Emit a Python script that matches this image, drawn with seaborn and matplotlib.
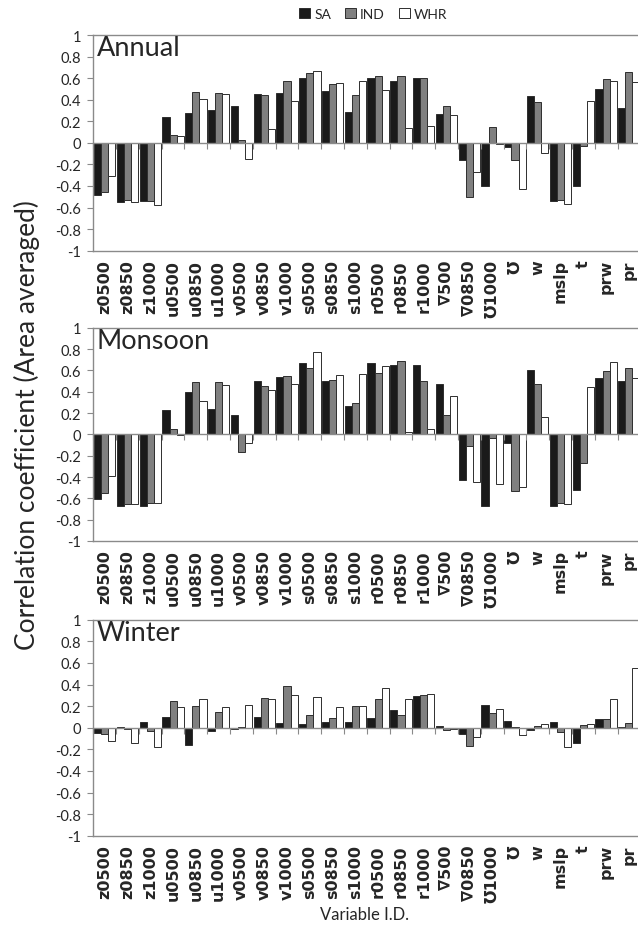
import numpy as np
import pandas as pd
import matplotlib
matplotlib.use('Agg')
import matplotlib.pyplot as plt
import seaborn as sns
from matplotlib.patches import Patch

categories = ['z0500', 'z0850', 'z1000', 'u0500', 'u0850', 'u1000', 'v0500', 'v0850', 'v1000',
              's0500', 's0850', 's1000', 'r0500', 'r0850', 'r1000', '∇500', '∇0850', '℧1000',
              '℧', 'w', 'mslp', 't', 'prw', 'pr']
series = ['SA', 'IND', 'WHR']
panels = ['Annual', 'Monsoon', 'Winter']

annual_sa = [-0.48, -0.55, -0.54, 0.24, 0.28, 0.30, 0.34, 0.45, 0.46, 0.60, 0.48, 0.29,
             0.60, 0.57, 0.60, 0.27, -0.16, -0.40, -0.04, 0.43, -0.54, -0.40, 0.50, 0.32]
annual_ind = [-0.46, -0.53, -0.54, 0.07, 0.47, 0.46, 0.03, 0.44, 0.575, 0.645, 0.545, 0.445,
              0.62, 0.62, 0.60, 0.34, -0.50, 0.145, -0.16, 0.38, -0.53, -0.03, 0.59, 0.66]
annual_whr = [-0.31, -0.55, -0.575, 0.06, 0.41, 0.45, -0.15, 0.13, 0.39, 0.67, 0.555, 0.575,
              0.49, 0.14, 0.16, 0.26, -0.27, -0.01, -0.43, -0.09, -0.57, 0.39, 0.57, 0.56]

monsoon_sa = [-0.605, -0.67, -0.675, 0.23, 0.40, 0.24, 0.18, 0.50, 0.54, 0.665, 0.50, 0.27,
              0.67, 0.65, 0.65, 0.47, -0.43, -0.675, -0.08, 0.60, -0.675, -0.52, 0.525, 0.50]
monsoon_ind = [-0.55, -0.65, -0.64, 0.05, 0.49, 0.49, -0.17, 0.45, 0.55, 0.625, 0.51, 0.29,
               0.575, 0.69, 0.50, 0.18, -0.11, -0.035, -0.53, 0.47, -0.645, -0.27, 0.59, 0.62]
monsoon_whr = [-0.39, -0.65, -0.64, -0.01, 0.31, 0.465, -0.08, 0.415, 0.475, 0.77, 0.555, 0.565,
               0.64, 0.02, 0.05, 0.36, -0.45, -0.465, -0.49, 0.16, -0.65, 0.44, 0.68, 0.53]

winter_sa = [-0.05, 0.01, 0.05, 0.095, -0.16, -0.03, -0.01, 0.095, 0.045, 0.03, 0.055, 0.05,
             0.09, 0.165, 0.29, 0.02, -0.06, 0.21, 0.065, -0.025, 0.05, -0.14, 0.085, 0.01]
winter_ind = [-0.06, -0.01, -0.035, 0.245, 0.20, 0.15, 0.01, 0.275, 0.39, 0.12, 0.09, 0.20,
              0.27, 0.12, 0.30, -0.02, -0.17, 0.135, 0.005, 0.02, -0.04, 0.025, 0.08, 0.04]
winter_whr = [-0.12, -0.14, -0.175, 0.19, 0.27, 0.19, 0.21, 0.27, 0.30, 0.28, 0.19, 0.20,
              0.37, 0.27, 0.31, -0.015, -0.09, 0.17, -0.07, 0.03, -0.175, 0.03, 0.27, 0.55]

panel_data = {
    'Annual': [annual_sa, annual_ind, annual_whr],
    'Monsoon': [monsoon_sa, monsoon_ind, monsoon_whr],
    'Winter': [winter_sa, winter_ind, winter_whr],
}

rows = []
for p in panels:
    for s, vals in zip(series, panel_data[p]):
        for c, v in zip(categories, vals):
            rows.append({'panel': p, 'series': s, 'var': c, 'value': v})
df = pd.DataFrame(rows)

sns.set_style('white')
plt.rcParams['font.family'] = ['Lato', 'DejaVu Sans']

colors = ['#1a1a1a', '#808080', '#ffffff']
gray = '#8a8a8a'

W, H = 638, 929
fig = plt.figure(figsize=(W / 100, H / 100), dpi=100)

left_px, width_px = 93.3, 547.0
panel_px = {'Annual': (36.0, 251.7), 'Monsoon': (328.7, 542.0), 'Winter': (620.7, 836.7)}

yt = np.round(np.arange(-1, 1.001, 0.2), 1)
ylabels = ['%g' % (0.0 if abs(v) < 1e-9 else v) for v in yt]

for p in panels:
    top, bot = panel_px[p]
    ax = fig.add_axes([left_px / W, 1 - bot / H, width_px / W, (bot - top) / H])
    sub = df[df['panel'] == p]
    sns.barplot(data=sub, x='var', y='value', hue='series', order=categories,
                hue_order=series, palette=colors, saturation=1, width=0.94,
                edgecolor='#2e2e2e', linewidth=0.7, ax=ax, legend=False)
    ax.set_xlim(-0.5, len(categories) - 0.5)
    ax.set_ylim(-1, 1)
    ax.set_xlabel('')
    ax.set_ylabel('')
    ax.set_yticks(yt)
    ax.set_yticklabels(ylabels, fontsize=10.5)
    ax.tick_params(axis='y', left=True, length=4, width=0.8, color=gray,
                   direction='out', pad=5)
    ax.set_xticks(range(len(categories)))
    ax.set_xticklabels(categories, rotation=90, fontsize=11.5, fontweight='bold',
                       family=['DejaVu Sans'])
    ax.tick_params(axis='x', bottom=True, length=0, pad=6)
    for side in ['left', 'top', 'bottom']:
        ax.spines[side].set_visible(True)
        ax.spines[side].set_color(gray)
        ax.spines[side].set_linewidth(1.0)
    ax.spines['right'].set_visible(False)
    ax.text(0.006, 0.998, p, transform=ax.transAxes, ha='left', va='top',
            fontsize=19.5, family=['Lato', 'DejaVu Sans'])

    # zero line with boundary tick marks
    ax2 = ax.twiny()
    ax2.set_xlim(ax.get_xlim())
    for side in ['left', 'top', 'right']:
        ax2.spines[side].set_visible(False)
    ax2.spines['bottom'].set_visible(True)
    ax2.spines['bottom'].set_position(('data', 0))
    ax2.spines['bottom'].set_color(gray)
    ax2.spines['bottom'].set_linewidth(1.0)
    ax2.xaxis.set_ticks_position('bottom')
    ax2.set_xticks(np.arange(-0.5, len(categories), 1))
    ax2.tick_params(axis='x', bottom=True, top=False, length=4, width=0.8,
                    color=gray, direction='out', labelbottom=False, labeltop=False)

handles = [Patch(facecolor=c, edgecolor='#2e2e2e', linewidth=0.7, label=s)
           for c, s in zip(colors, series)]
fig.legend(handles=handles, loc='center', bbox_to_anchor=(0.585, 0.984), ncol=3,
           frameon=False, fontsize=10, handlelength=0.8, handleheight=0.8,
           handletextpad=0.3, columnspacing=1.0)

fig.text(0.042, 0.5425, 'Correlation coefficient (Area averaged)', rotation=90,
         ha='center', va='center', fontsize=19)
fig.text(0.572, 0.015, 'Variable I.D.', ha='center', va='center', fontsize=12)

fig.savefig('out.png', dpi=100)
